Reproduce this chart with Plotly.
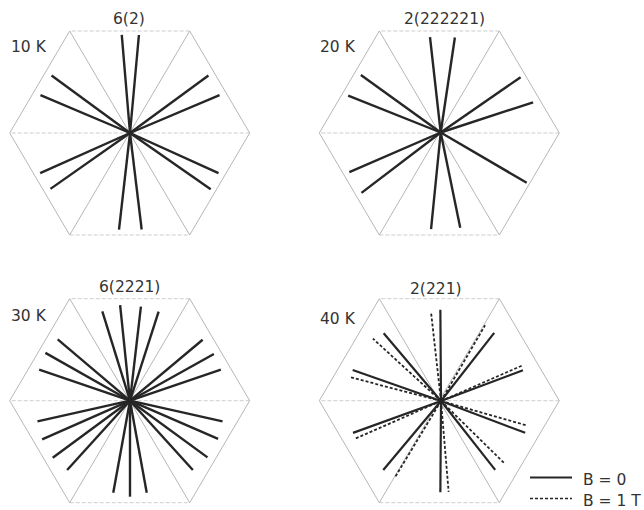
import numpy as np
import plotly.graph_objects as go

# ---- data: ray directions (deg, counter-clockwise from +x) and lengths (fraction of hexagon radius)
panels = ["10 K", "20 K", "30 K", "40 K"]
titles = ["6(2)", "2(222221)", "6(2221)", "2(221)"]

ang_10K = [22.9, 36.2, 84.8, 94.8, 143.8, 157.1, 204.1, 215.1, 263.5, 276.9, 325.1, 335.6]
len_10K = [0.81, 0.81, 0.82, 0.82, 0.81, 0.81, 0.82, 0.81, 0.81, 0.81, 0.82, 0.81]

ang_20K = [18.1, 34.7, 81.5, 96.4, 144.2, 158.3, 203.5, 217.3, 264.3, 281.6, 329.7]
len_20K = [0.81, 0.81, 0.80, 0.80, 0.82, 0.83, 0.83, 0.83, 0.81, 0.81, 0.83]

ang_30K = [18.9, 29.1, 40.0, 72.2, 83.4, 95.9, 107.2, 139.7, 150.5, 161.1, 192.6,
           203.8, 216.4, 227.8, 259.7, 270.0, 280.3, 312.2, 323.8, 336.6, 347.4]
len_30K = [0.80, 0.80, 0.79, 0.78, 0.79, 0.80, 0.78, 0.79, 0.81, 0.80, 0.79,
           0.80, 0.80, 0.78, 0.78, 0.80, 0.78, 0.78, 0.80, 0.80, 0.79]

ang_40K_B0 = [20.6, 52.0, 90.4, 130.2, 160.7, 199.9, 230.1, 269.6, 308.2, 339.3]
len_40K_B0 = [0.73, 0.72, 0.76, 0.74, 0.78, 0.78, 0.75, 0.76, 0.73, 0.75]

ang_40K_B1 = [23.6, 59.8, 96.4, 137.5, 165.3, 203.7, 238.9, 274.8, 315.5, 344.1]
len_40K_B1 = [0.75, 0.73, 0.75, 0.77, 0.78, 0.79, 0.75, 0.76, 0.75, 0.75]

legend_labels = ["B = 0", "B = 1 T"]

# ---- layout constants (pixels)
W, H = 644, 510
R = 120.0          # hexagon half-width (px)
RY = 102.0         # hexagon half-height (px)
centers = [(130.0, 133.0), (440.7, 132.5), (130.0, 400.7), (441.0, 401.0)]
hex_centers = [(129.7, 133.0), (439.3, 133.0), (129.7, 400.7), (439.3, 400.7)]

fig = go.Figure()

def rays(c, angs, lens):
    xs, ys = [], []
    for a, l in zip(angs, lens):
        t = np.deg2rad(a)
        xs += [c[0], c[0] + l * R * np.cos(t), None]
        ys += [c[1], c[1] - l * R * np.sin(t), None]
    return xs, ys

# hexagon frames
for hc in hex_centers:
    vx = [hc[0] + R * np.cos(np.deg2rad(k * 60)) for k in range(6)]
    vy = [hc[1] - RY * np.sign(np.round(np.sin(np.deg2rad(k * 60)), 6)) for k in range(6)]
    sx, sy = [], []
    for i, j in [(0, 1), (2, 3), (3, 4), (5, 0), (1, 4), (2, 5)]:
        sx += [vx[i], vx[j], None]
        sy += [vy[i], vy[j], None]
    fig.add_trace(go.Scatter(x=sx, y=sy, mode="lines", showlegend=False, hoverinfo="skip",
                             line=dict(color="#a3a3a3", width=0.8)))
    hx, hy = [], []
    for i, j in [(1, 2), (4, 5), (0, 3)]:
        hx += [vx[i], vx[j], None]
        hy += [vy[i], vy[j], None]
    fig.add_trace(go.Scatter(x=hx, y=hy, mode="lines", showlegend=False, hoverinfo="skip",
                             line=dict(color="#c0c0c0", width=0.8, dash="4px,2px")))

ray_col = "#262626"
for c, (a, l) in zip(centers[:3], [(ang_10K, len_10K), (ang_20K, len_20K), (ang_30K, len_30K)]):
    x, y = rays(c, a, l)
    fig.add_trace(go.Scatter(x=x, y=y, mode="lines", showlegend=False, hoverinfo="skip",
                             line=dict(color=ray_col, width=2.4)))

x, y = rays(centers[3], ang_40K_B0, len_40K_B0)
fig.add_trace(go.Scatter(x=x, y=y, mode="lines", name=legend_labels[0], showlegend=False,
                         line=dict(color=ray_col, width=2.2)))
x, y = rays(centers[3], ang_40K_B1, len_40K_B1)
fig.add_trace(go.Scatter(x=x, y=y, mode="lines", name=legend_labels[1], showlegend=False,
                         line=dict(color=ray_col, width=1.8, dash="3px,2px")))

# legend keys (drawn by hand to match the original key geometry)
fig.add_shape(type="line", x0=530, x1=572, y0=477.5, y1=477.5, line=dict(color=ray_col, width=2.2))
fig.add_shape(type="line", x0=530, x1=572, y0=498.5, y1=498.5,
              line=dict(color=ray_col, width=1.5, dash="3px,2px"))

family = "DejaVu Sans, Liberation Sans, sans-serif"
font = dict(family=family, size=15.5, color="#333333")
ann = []
title_pos = [(129, 18.5), (444, 18.5), (129, 286.5), (436.3, 289)]
label_pos = [(28.5, 46.5), (338.2, 47), (28.5, 316), (337.8, 318.5)]
for t, p in zip(titles, title_pos):
    ann.append(dict(x=p[0], y=p[1], text=t, showarrow=False, xanchor="center", yanchor="middle", font=font))
for t, p in zip(panels, label_pos):
    ann.append(dict(x=p[0], y=p[1], text=t, showarrow=False, xanchor="center", yanchor="middle", font=font))
for t, yy in zip(legend_labels, [480, 500.5]):
    ann.append(dict(x=581, y=yy, text=t, showarrow=False, xanchor="left", yanchor="middle", font=font))

fig.update_layout(
    width=W, height=H, margin=dict(l=0, r=0, t=0, b=0),
    paper_bgcolor="white", plot_bgcolor="white",
    xaxis=dict(range=[0, W], visible=False, fixedrange=True),
    yaxis=dict(range=[H, 0], visible=False, fixedrange=True),
    annotations=ann,
    showlegend=False,
)
fig.write_html("out.html", config={"displayModeBar": False},
               post_script="document.body.style.margin='0';document.body.style.overflow='hidden';")
